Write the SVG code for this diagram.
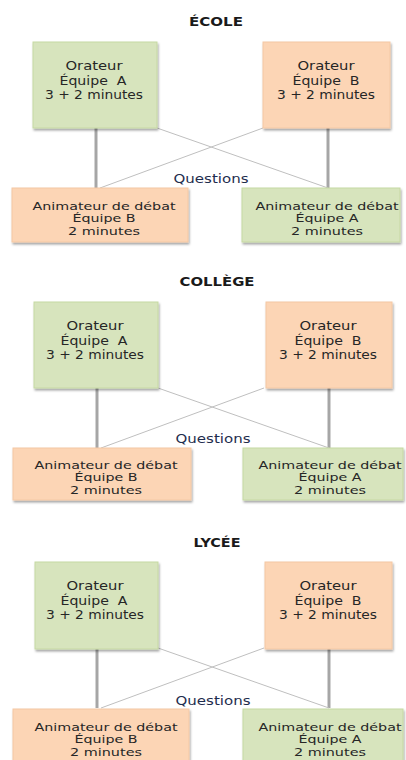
<svg xmlns="http://www.w3.org/2000/svg" width="406" height="760" viewBox="0 0 406 760">
<defs>
<filter id="sh" x="-10%" y="-10%" width="125%" height="130%">
<feDropShadow dx="1" dy="2" stdDeviation="1" flood-color="#000" flood-opacity="0.35"/>
</filter>
<g id="section">
<g class="connectors">
<line class="thick" x1="96" y1="128" x2="96" y2="188"/>
<line class="thick" x1="328" y1="128" x2="328" y2="188"/>
<line class="thin" x1="157" y1="128" x2="328" y2="188"/>
<line class="thin" x1="263" y1="128" x2="100" y2="188"/>
</g>
</g>
</defs>
<style>
.thick{stroke:#a6a6a6;stroke-width:3}
.thin{stroke:#bfbfbf;stroke-width:1}
.g{fill:#d7e4bd;stroke:#c6d9a3;stroke-width:1;filter:url(#sh)}
.o{fill:#fcd5b5;stroke:#f4c8a4;stroke-width:1;filter:url(#sh)}
text{font-family:"DejaVu Sans","Liberation Sans",sans-serif;font-size:12.5px;fill:#262626;text-anchor:middle}
.s{font-size:10.6px}
.t{font-weight:bold;font-size:12px;fill:#1a1a1a}
.q{fill:#1f2d4e}
</style>
<rect width="406" height="760" fill="#fff"/>

<g id="ecole">
<use href="#section"/>
<text class="t" x="216" y="26" textLength="54" lengthAdjust="spacingAndGlyphs">ÉCOLE</text>
<g id="ecole-orateur-a"><rect class="g" x="33" y="42" width="124" height="86"/>
<text x="94" y="70" textLength="57" lengthAdjust="spacingAndGlyphs">Orateur</text><text x="93" y="85" textLength="67" lengthAdjust="spacingAndGlyphs" xml:space="preserve">Équipe  A</text><text x="94" y="99" textLength="98" lengthAdjust="spacingAndGlyphs">3 + 2 minutes</text></g>
<g id="ecole-orateur-b"><rect class="o" x="263" y="42" width="127" height="86"/>
<text x="326" y="70" textLength="57" lengthAdjust="spacingAndGlyphs">Orateur</text><text x="326" y="85" textLength="67" lengthAdjust="spacingAndGlyphs" xml:space="preserve">Équipe  B</text><text x="326" y="99" textLength="98" lengthAdjust="spacingAndGlyphs">3 + 2 minutes</text></g>
<text class="q" x="211" y="183" textLength="75" lengthAdjust="spacingAndGlyphs">Questions</text>
<g id="ecole-animateur-b"><rect class="o" x="12" y="188" width="176" height="54"/>
<text class="s" x="104" y="210" textLength="143" lengthAdjust="spacingAndGlyphs">Animateur de débat</text><text class="s" x="104" y="222.3" textLength="63" lengthAdjust="spacingAndGlyphs">Équipe B</text><text class="s" x="104" y="234.6" textLength="72" lengthAdjust="spacingAndGlyphs">2 minutes</text></g>
<g id="ecole-animateur-a"><rect class="g" x="242" y="188" width="158" height="54"/>
<text class="s" x="327" y="210" textLength="143" lengthAdjust="spacingAndGlyphs">Animateur de débat</text><text class="s" x="327" y="222.3" textLength="63" lengthAdjust="spacingAndGlyphs">Équipe A</text><text class="s" x="327" y="234.6" textLength="72" lengthAdjust="spacingAndGlyphs">2 minutes</text></g>
</g>

<g id="college" transform="translate(1,260)">
<use href="#section"/>
<text class="t" x="216" y="26" textLength="75" lengthAdjust="spacingAndGlyphs">COLLÈGE</text>
<g id="college-orateur-a"><rect class="g" x="33" y="42" width="124" height="86"/>
<text x="94" y="70" textLength="57" lengthAdjust="spacingAndGlyphs">Orateur</text><text x="93" y="85" textLength="67" lengthAdjust="spacingAndGlyphs" xml:space="preserve">Équipe  A</text><text x="94" y="99" textLength="98" lengthAdjust="spacingAndGlyphs">3 + 2 minutes</text></g>
<g id="college-orateur-b"><rect class="o" x="265" y="42" width="126" height="86"/>
<text x="327" y="70" textLength="57" lengthAdjust="spacingAndGlyphs">Orateur</text><text x="327" y="85" textLength="67" lengthAdjust="spacingAndGlyphs" xml:space="preserve">Équipe  B</text><text x="327" y="99" textLength="98" lengthAdjust="spacingAndGlyphs">3 + 2 minutes</text></g>
<text class="q" x="212" y="183" textLength="75" lengthAdjust="spacingAndGlyphs">Questions</text>
<g id="college-animateur-b"><rect class="o" x="12" y="188" width="178" height="52"/>
<text class="s" x="105" y="209" textLength="143" lengthAdjust="spacingAndGlyphs">Animateur de débat</text><text class="s" x="105" y="221.3" textLength="63" lengthAdjust="spacingAndGlyphs">Équipe B</text><text class="s" x="105" y="233.6" textLength="72" lengthAdjust="spacingAndGlyphs">2 minutes</text></g>
<g id="college-animateur-a"><rect class="g" x="242" y="188" width="160" height="52"/>
<text class="s" x="329" y="209" textLength="143" lengthAdjust="spacingAndGlyphs">Animateur de débat</text><text class="s" x="329" y="221.3" textLength="63" lengthAdjust="spacingAndGlyphs">Équipe A</text><text class="s" x="329" y="233.6" textLength="72" lengthAdjust="spacingAndGlyphs">2 minutes</text></g>
</g>

<g id="lycee" transform="translate(1,520)">
<use href="#section"/>
<text class="t" x="216" y="27" textLength="47" lengthAdjust="spacingAndGlyphs">LYCÉE</text>
<g id="lycee-orateur-a"><rect class="g" x="34" y="42" width="123" height="87"/>
<text x="94" y="70" textLength="57" lengthAdjust="spacingAndGlyphs">Orateur</text><text x="93" y="85" textLength="67" lengthAdjust="spacingAndGlyphs" xml:space="preserve">Équipe  A</text><text x="94" y="99" textLength="98" lengthAdjust="spacingAndGlyphs">3 + 2 minutes</text></g>
<g id="lycee-orateur-b"><rect class="o" x="264" y="42" width="127" height="87"/>
<text x="327" y="70" textLength="57" lengthAdjust="spacingAndGlyphs">Orateur</text><text x="327" y="85" textLength="67" lengthAdjust="spacingAndGlyphs" xml:space="preserve">Équipe  B</text><text x="327" y="99" textLength="98" lengthAdjust="spacingAndGlyphs">3 + 2 minutes</text></g>
<text class="q" x="212" y="185" textLength="75" lengthAdjust="spacingAndGlyphs">Questions</text>
<g id="lycee-animateur-b"><rect class="o" x="12" y="189" width="176" height="54"/>
<text class="s" x="105" y="211" textLength="143" lengthAdjust="spacingAndGlyphs">Animateur de débat</text><text class="s" x="105" y="223.3" textLength="63" lengthAdjust="spacingAndGlyphs">Équipe B</text><text class="s" x="105" y="235.6" textLength="72" lengthAdjust="spacingAndGlyphs">2 minutes</text></g>
<g id="lycee-animateur-a"><rect class="g" x="242" y="189" width="160" height="54"/>
<text class="s" x="329" y="211" textLength="143" lengthAdjust="spacingAndGlyphs">Animateur de débat</text><text class="s" x="329" y="223.3" textLength="63" lengthAdjust="spacingAndGlyphs">Équipe A</text><text class="s" x="329" y="235.6" textLength="72" lengthAdjust="spacingAndGlyphs">2 minutes</text></g>
</g>
</svg>
